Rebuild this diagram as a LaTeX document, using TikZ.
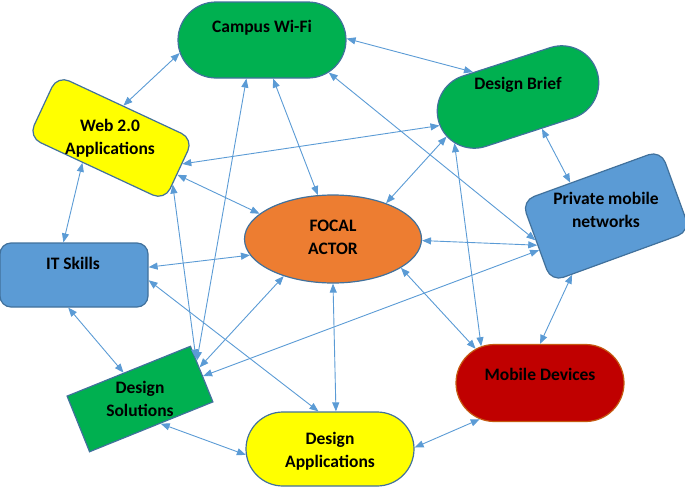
\documentclass[tikz,border=0pt]{standalone}
\usepackage{fontspec}
\setmainfont{Carlito}
\usetikzlibrary{shapes.geometric,shapes.misc,arrows.meta}
\definecolor{boxgreen}{RGB}{0,176,80}
\definecolor{boxyellow}{RGB}{255,255,0}
\definecolor{boxblue}{RGB}{91,155,213}
\definecolor{boxorange}{RGB}{237,125,49}
\definecolor{boxred}{RGB}{192,0,0}
\definecolor{boxline}{RGB}{65,113,156}
\definecolor{redline}{RGB}{197,90,17}
\definecolor{linkblue}{RGB}{91,155,213}
\tikzset{
    box/.style = {
        draw            = boxline,
        line width      = 1.2pt,
        inner sep       = 0pt,
    },
    pill/.style = {
        box,
        rounded rectangle,
        minimum width   = 168pt,
        minimum height  = 76pt,
    },
    card/.style = {
        box,
        rectangle,
        rounded corners = 13pt,
    },
    caption/.style = {
        font            = \bfseries\fontsize{17.5}{23}\selectfont,
        align           = center,
        inner sep       = 0pt,
    },
    link/.style = {
        {Triangle[length=9pt,width=7pt]}-{Triangle[length=9pt,width=7pt]},
        draw            = linkblue,
        line width      = 0.9pt,
    }
}

\begin{document}
\begin{tikzpicture}[x=1pt,y=-1pt]
  \useasboundingbox (0,0) rectangle (685,488);

  % Shapes
  \node[pill,fill=boxgreen] (CampusWiFi) at (262,40) {};
  \node[pill,fill=boxgreen,minimum width=166pt,minimum height=74pt,rotate=18] (DesignBrief) at (518,97) {};
  \node[card,fill=boxyellow,minimum width=150pt,minimum height=68pt,rotate=-25] (WebApps) at (111,138) {};
  \node[card,fill=boxblue,minimum width=148pt,minimum height=86pt,rotate=20] (PrivateNetworks) at (606,216) {};
  \node[card,fill=boxblue,minimum width=148pt,minimum height=64pt,rounded corners=11pt] (ITSkills) at (74,275) {};
  \node[box,fill=boxgreen,minimum width=133pt,minimum height=60pt,rotate=22] (DesignSolutions) at (140,399) {};
  \node[pill,fill=boxyellow,minimum height=74pt] (DesignApps) at (330,449) {};
  \node[pill,fill=boxred,draw=redline,minimum height=77pt] (MobileDevices) at (540,383) {};
  \node[box,ellipse,fill=boxorange,minimum width=177pt,minimum height=88pt] (FocalActor) at (333,239) {};

  % Links from Campus Wi-Fi
  \draw[link] (CampusWiFi.189) to (WebApps.94);
  \draw[link] (CampusWiFi.1) to (DesignBrief.133);
  \draw[link] (CampusWiFi.286) to (FocalActor.109);
  \draw[link] (CampusWiFi.248) to (DesignSolutions.12);
  \draw[link] (CampusWiFi.334) to (PrivateNetworks.179);

  % Links from Design Brief
  \draw[link] (DesignBrief.182) to (WebApps.5);
  \draw[link] (DesignBrief.191) to (FocalActor.34);
  \draw[link] (DesignBrief.289) to (PrivateNetworks.117);
  \draw[link] (DesignBrief.198) to (MobileDevices.148);

  % Links from Web 2.0
  \draw[link] (WebApps.246) to (ITSkills.108);
  \draw[link] (WebApps.356) to (FocalActor.161);
  \draw[link] (WebApps.348) to (DesignSolutions.14);

  % Links from IT Skills
  \draw[link] (ITSkills.6) to (FocalActor.191);
  \draw[link] (ITSkills.260) to (DesignSolutions.100);
  \draw[link] (ITSkills.356) to (DesignApps.107);

  % Links from the focal actor
  \draw[link] (FocalActor.359) to (PrivateNetworks.183);
  \draw[link] (FocalActor.337) to (MobileDevices.152);
  \draw[link] (FocalActor.270) to (DesignApps.81);
  \draw[link] (FocalActor.217) to (DesignSolutions.6);

  % Remaining links
  \draw[link] (DesignSolutions.358) to (PrivateNetworks.187);
  \draw[link] (DesignSolutions.288) to (DesignApps.184);
  \draw[link] (DesignApps.1) to (MobileDevices.211);
  \draw[link] (PrivateNetworks.220) to (MobileDevices.90);

  % Texts
  \node[caption] (CampusWiFiText) at (262,28) {Campus Wi-Fi};
  \node[caption] (DesignBriefText) at (518,85) {Design Brief};
  \node[caption] (WebAppsText) at (110,138) {Web 2.0\\Applications};
  \node[caption] (PrivateNetworksText) at (606,210) {Private mobile\\networks};
  \node[caption] (ITSkillsText) at (73,263) {IT Skills};
  \node[caption] (DesignSolutionsText) at (140,399) {Design\\Solutions};
  \node[caption] (DesignAppsText) at (330,451) {Design\\Applications};
  \node[caption] (MobileDevicesText) at (540,374) {Mobile Devices};
  \node[caption] (FocalActorText) at (333,237) {FOCAL\\ACTOR};
\end{tikzpicture}
\end{document}
